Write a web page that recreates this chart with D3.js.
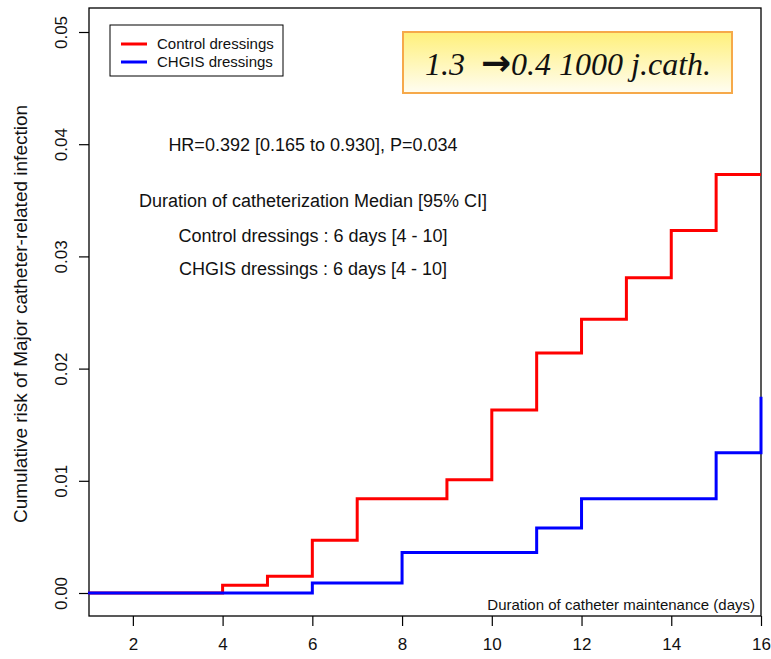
<!DOCTYPE html>
<html>
<head>
<meta charset="utf-8">
<script src="https://cdn.jsdelivr.net/npm/d3@7"></script>
<style>
body { margin: 0; background: #fff; }
text { font-family: "Liberation Sans", Arial, sans-serif; fill: #111; }
</style>
</head>
<body>
<div id="chart"></div>
<script>
// Step data (day the risk changes, cumulative risk after it)
var controlDays = [1, 4, 5, 6, 7, 9, 10, 11, 12, 13, 14, 15, 16];
var controlRisk = [0, 0.0007, 0.0015, 0.0047, 0.0084, 0.0101, 0.0163, 0.0214, 0.0244, 0.0281, 0.0323, 0.0373, 0.0373];
var chgisDays = [1, 6, 8, 11, 12, 15, 16];
var chgisRisk = [0, 0.0009, 0.0036, 0.0058, 0.0084, 0.0125, 0.0175];

var xTicks = [2, 4, 6, 8, 10, 12, 14, 16];
var yTicks = [0, 0.01, 0.02, 0.03, 0.04, 0.05];

var legendLabels = ["Control dressings", "CHGIS dressings"];
var notes = ["Duration of catheterization Median [95% CI]",
             "Control dressings : 6 days [4 - 10]",
             "CHGIS dressings : 6 days [4 - 10]"];

var width = 771, height = 659;
var box = {left: 89, top: 8, right: 761, bottom: 616};

var svg = d3.select("#chart").append("svg")
    .attr("width", width)
    .attr("height", height);

// scales
var x = d3.scaleLinear().domain([1, 16]).range([88, 761]);
var y = d3.scaleLinear().domain([0, 0.05]).range([593, 32]);

// frame
svg.append("rect")
    .attr("x", box.left).attr("y", box.top)
    .attr("width", box.right - box.left).attr("height", box.bottom - box.top)
    .attr("fill", "none").attr("stroke", "#000").attr("stroke-width", 1.3);

// axes
var xAxis = d3.axisBottom(x).tickValues(xTicks).tickSize(10).tickPadding(12);
var yAxis = d3.axisLeft(y).tickValues(yTicks).tickSize(10).tickFormat(d3.format(".2f"));

var gx = svg.append("g")
    .attr("transform", "translate(0," + box.bottom + ")")
    .call(xAxis);
gx.select(".domain").remove();
gx.selectAll("line").attr("stroke", "#000").attr("stroke-width", 1.2);
gx.selectAll("text").style("font-size", "17px").attr("fill", "#111");

var gy = svg.append("g")
    .attr("transform", "translate(" + box.left + ",0)")
    .call(yAxis);
gy.select(".domain").remove();
gy.selectAll("line").attr("stroke", "#000").attr("stroke-width", 1.2);
gy.selectAll("text")
    .style("font-size", "17px").attr("fill", "#111")
    .attr("text-anchor", "middle")
    .attr("x", null)
    .attr("transform", "translate(-28,0) rotate(-90)")
    .attr("y", 0)
    .attr("dy", "0.35em");

// axis titles
svg.append("text")
    .attr("transform", "translate(20,314) rotate(-90)")
    .attr("text-anchor", "middle")
    .attr("dy", "0.35em")
    .style("font-size", "19px")
    .text("Cumulative risk of Major catheter-related infection");

svg.append("text")
    .attr("x", 755).attr("y", 605).attr("dy", "0.35em")
    .attr("text-anchor", "end")
    .style("font-size", "15px")
    .text("Duration of catheter maintenance (days)");

// step lines
var stepLine = d3.line()
    .x(function(d) { return x(d[0]); })
    .y(function(d) { return y(d[1]); })
    .curve(d3.curveStepAfter);

var series = [
    {days: controlDays, risk: controlRisk, color: "#ff0000"},
    {days: chgisDays, risk: chgisRisk, color: "#0000ff"}
];

// red first, blue over it on the shared zero line
series.forEach(function(s) {
    var pts = s.days.map(function(d, i) { return [d, s.risk[i]]; });
    svg.append("path")
        .attr("d", stepLine(pts))
        .attr("fill", "none")
        .attr("stroke", s.color)
        .attr("stroke-width", 3);
});

// legend
var legend = svg.append("g");
legend.append("rect")
    .attr("x", 110).attr("y", 25).attr("width", 173).attr("height", 51)
    .attr("fill", "#fff").attr("stroke", "#000").attr("stroke-width", 1);
legendLabels.forEach(function(lab, i) {
    var ly = 44 + i * 18;
    legend.append("line")
        .attr("x1", 121).attr("x2", 147).attr("y1", ly).attr("y2", ly)
        .attr("stroke", series[i].color).attr("stroke-width", 3);
    legend.append("text")
        .attr("x", 157).attr("y", ly).attr("dy", "0.35em")
        .style("font-size", "15px")
        .text(lab);
});

// yellow callout
var defs = svg.append("defs");
var grad = defs.append("linearGradient")
    .attr("id", "yel").attr("x1", 0).attr("y1", 0).attr("x2", 0).attr("y2", 1);
grad.append("stop").attr("offset", "0%").attr("stop-color", "#fff07a");
grad.append("stop").attr("offset", "100%").attr("stop-color", "#fffdf2");

svg.append("rect")
    .attr("x", 403).attr("y", 32).attr("width", 329).attr("height", 61)
    .attr("fill", "url(#yel)").attr("stroke", "#f6a94a").attr("stroke-width", 2);
var call = svg.append("text")
    .attr("x", 568).attr("y", 75)
    .attr("text-anchor", "middle")
    .style("font-family", "'Liberation Serif', 'Times New Roman', serif")
    .style("font-style", "italic")
    .style("font-size", "32px");
call.append("tspan").text("1.3 \u00a0");
call.append("tspan")
    .style("font-family", "'DejaVu Sans', sans-serif")
    .style("font-style", "normal")
    .style("font-weight", "bold")
    .style("font-size", "36px")
    .text("\u2192");
call.append("tspan").text("0.4 1000 j.cath.");

// annotations
svg.append("text")
    .attr("x", 313).attr("y", 145).attr("dy", "0.35em")
    .attr("text-anchor", "middle")
    .style("font-size", "18px")
    .text("HR=0.392 [0.165 to 0.930], P=0.034");

notes.forEach(function(t, i) {
    svg.append("text")
        .attr("x", 313).attr("y", [201, 236, 269][i]).attr("dy", "0.35em")
        .attr("text-anchor", "middle")
        .style("font-size", "18px")
        .text(t);
});
</script>
</body>
</html>
